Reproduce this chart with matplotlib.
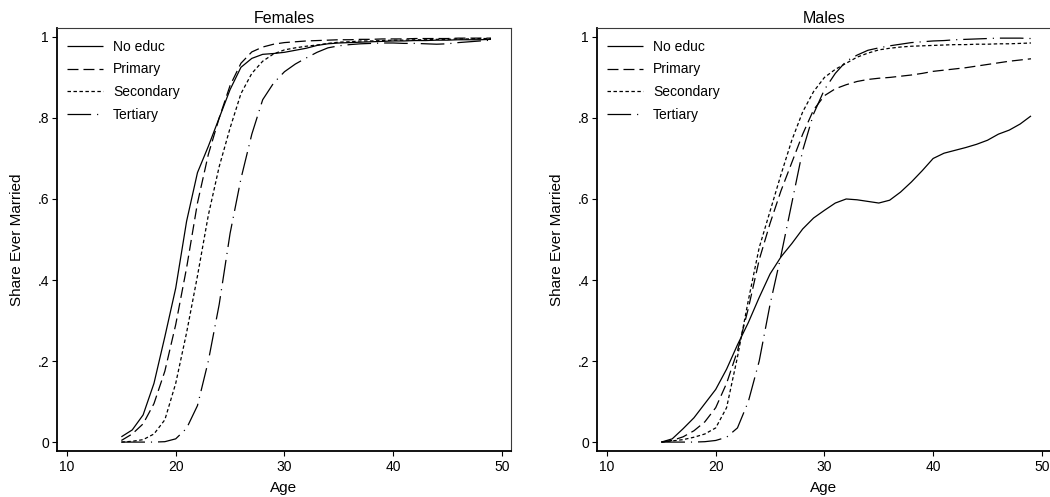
import matplotlib
matplotlib.use("Agg")
import matplotlib.pyplot as plt
from matplotlib.ticker import FixedLocator, FuncFormatter

plt.rcParams["font.family"] = ["Liberation Sans", "DejaVu Sans"]
plt.rcParams["lines.scale_dashes"] = False

ages = list(range(15, 50))

fem_none = [0.013, 0.03, 0.067, 0.145, 0.26, 0.38, 0.545, 0.665, 0.73, 0.80,
            0.87, 0.925, 0.947, 0.957, 0.959, 0.962, 0.967, 0.972, 0.979, 0.983,
            0.985, 0.986, 0.987, 0.988, 0.989, 0.99, 0.99, 0.991, 0.991, 0.992,
            0.992, 0.993, 0.993, 0.993, 0.994]
fem_prim = [0.004, 0.02, 0.045, 0.095, 0.175, 0.29, 0.43, 0.59, 0.71, 0.80,
            0.88, 0.935, 0.963, 0.975, 0.982, 0.986, 0.988, 0.99, 0.991, 0.992,
            0.993, 0.993, 0.994, 0.994, 0.995, 0.995, 0.995, 0.996, 0.996, 0.996,
            0.996, 0.997, 0.997, 0.997, 0.997]
fem_sec = [0.0, 0.002, 0.006, 0.02, 0.055, 0.145, 0.27, 0.41, 0.56, 0.68,
           0.775, 0.86, 0.91, 0.94, 0.958, 0.968, 0.973, 0.977, 0.98, 0.984,
           0.987, 0.988, 0.99, 0.99, 0.991, 0.992, 0.992, 0.993, 0.993, 0.994,
           0.994, 0.995, 0.995, 0.996, 0.996]
fem_ter = [0.0, 0.0, 0.0, 0.0, 0.001, 0.008, 0.034, 0.09, 0.2, 0.34,
           0.515, 0.65, 0.76, 0.845, 0.886, 0.914, 0.933, 0.948, 0.962, 0.973,
           0.978, 0.981, 0.983, 0.984, 0.985, 0.985, 0.984, 0.984, 0.983, 0.982,
           0.983, 0.986, 0.988, 0.99, 0.992]

male_none = [0.0, 0.008, 0.033, 0.06, 0.095, 0.13, 0.18, 0.24, 0.295, 0.357,
             0.415, 0.457, 0.49, 0.526, 0.553, 0.572, 0.59, 0.6, 0.598, 0.594,
             0.59, 0.597, 0.617, 0.642, 0.67, 0.7, 0.713, 0.72, 0.727, 0.735,
             0.745, 0.76, 0.77, 0.785, 0.805]
male_prim = [0.0, 0.004, 0.013, 0.028, 0.05, 0.085, 0.145, 0.225, 0.33, 0.45,
             0.54, 0.62, 0.69, 0.76, 0.82, 0.855, 0.872, 0.882, 0.89, 0.895,
             0.898, 0.9, 0.903, 0.906, 0.91, 0.915, 0.918, 0.921, 0.924, 0.928,
             0.932, 0.936, 0.94, 0.943, 0.946]
male_sec = [0.0, 0.003, 0.006, 0.012, 0.02, 0.035, 0.085, 0.21, 0.35, 0.48,
            0.57, 0.66, 0.745, 0.815, 0.865, 0.9, 0.92, 0.935, 0.95, 0.96,
            0.968, 0.972, 0.975, 0.977, 0.978, 0.979, 0.98, 0.981, 0.981, 0.982,
            0.982, 0.983, 0.983, 0.984, 0.985]
male_ter = [0.0, 0.0, 0.0, 0.0, 0.001, 0.004, 0.012, 0.035, 0.1, 0.2,
            0.34, 0.46, 0.59, 0.72, 0.81, 0.87, 0.91, 0.94, 0.955, 0.967,
            0.973, 0.978, 0.982, 0.986, 0.988, 0.99, 0.991, 0.993, 0.994, 0.995,
            0.996, 0.997, 0.997, 0.997, 0.996]

labels = ["No educ", "Primary", "Secondary", "Tertiary"]
x_ticks = [10, 20, 30, 40, 50]
y_ticks = [0, 0.2, 0.4, 0.6, 0.8, 1.0]

# dash patterns in points, roughly what Stata's s2mono draws
styles = [
    (0, ()),
    (0, (7.9, 3.6)),
    (0, (2.5, 1.8)),
    (0, (17.0, 4.3, 0.8, 4.3)),
]


def ytick_fmt(v, _pos):
    # Stata style labels: 0 .2 .4 ... 1
    if abs(v) < 1e-9:
        return "0"
    if abs(v - 1) < 1e-9:
        return "1"
    return ("%.1f" % v).lstrip("0")


def draw_panel(ax, title, series):
    for vals, lab, ls in zip(series, labels, styles):
        ax.plot(ages, vals, color="black", lw=0.9, linestyle=ls, label=lab)

    ax.set_xlim(9.08, 50.84)
    ax.set_ylim(-0.022, 1.022)
    ax.xaxis.set_major_locator(FixedLocator(x_ticks))
    ax.yaxis.set_major_locator(FixedLocator(y_ticks))
    ax.yaxis.set_major_formatter(FuncFormatter(ytick_fmt))
    ax.tick_params(axis="both", direction="out", length=3.6, width=0.8,
                   labelsize=10, color="black")
    ax.tick_params(axis="x", pad=3.2)
    ax.tick_params(axis="y", pad=2.2)

    for side in ("top", "right"):
        ax.spines[side].set_linewidth(0.8)
        ax.spines[side].set_color("#3a3a3a")
    for side in ("left", "bottom"):
        ax.spines[side].set_linewidth(1.3)
        ax.spines[side].set_color("black")

    ax.text(0.5, 1.0118, title, transform=ax.transAxes, ha="center",
            va="baseline", fontsize=11.5)
    ax.set_xlabel("Age", fontsize=11, va="center")
    ax.xaxis.set_label_coords(0.5, -0.087)
    ax.set_ylabel("Share Ever Married", fontsize=11, va="center")
    ax.yaxis.set_label_coords(-0.088, 0.5)

    ax.legend(loc="upper left", bbox_to_anchor=(0.022, 0.972), frameon=False,
              fontsize=10, handlelength=2.6, handletextpad=0.72,
              labelspacing=0.62, borderpad=0, borderaxespad=0)


fig = plt.figure(figsize=(10.5, 4.97), dpi=100)
ax_f = fig.add_axes([57 / 1050, 46 / 497, 454 / 1050, 423 / 497])
ax_m = fig.add_axes([597 / 1050, 46 / 497, 454 / 1050, 423 / 497])

draw_panel(ax_f, "Females", [fem_none, fem_prim, fem_sec, fem_ter])
draw_panel(ax_m, "Males", [male_none, male_prim, male_sec, male_ter])

fig.savefig("out.png", dpi=100)
